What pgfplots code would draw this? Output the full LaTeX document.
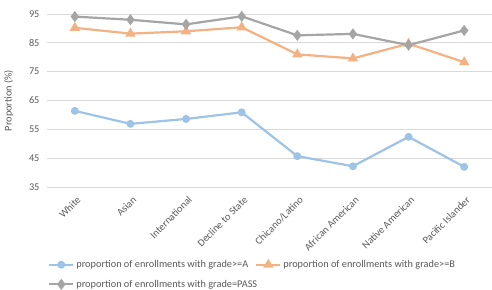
\documentclass[border=0pt]{standalone}
\usepackage{pgfplots}
\pgfplotsset{compat=1.18}
\usepackage{fontspec}
\setmainfont{Carlito}
\definecolor{txtc}{RGB}{89,89,89}
\definecolor{gridc}{RGB}{217,217,217}
\definecolor{cA}{RGB}{157,195,230}
\definecolor{cB}{RGB}{244,177,131}
\definecolor{cP}{RGB}{165,165,165}
\begin{document}
\begin{tikzpicture}
\begin{axis}[
  name=ax,
  scale only axis,
  width=445pt, height=173pt,
  xmin=-0.5, xmax=7.5,
  ymin=35, ymax=95,
  ytick={35,45,55,65,75,85,95},
  xtick={0,...,7},
  xticklabels={White,Asian,International,Decline to State,Chicano/Latino,African American,Native American,Pacific Islander},
  x tick label style={rotate=45, anchor=north east, font=\fontsize{10.3}{12}\selectfont, text=txtc, inner sep=1pt, yshift=-6pt, xshift=-4pt},
  y tick label style={font=\fontsize{10.3}{12}\selectfont, text=txtc, xshift=-4pt},
  /pgf/number format/assume math mode=true,
  grid=none,
  ymajorgrids=true,
  x grid style={white},
  y grid style={color=gridc, line width=0.8pt},
  tick style={white},
  axis line style={draw=none},
  major tick length=0pt,
  ylabel={Proportion (\%)},
  ylabel style={font=\fontsize{10.3}{12}\selectfont, text=txtc, at={(axis description cs:-0.068,0.5)}},
  clip=false,
  legend columns=2,
  legend style={at={(0.0,-0.40)}, anchor=north west, xshift=-2pt, draw=none, fill=none,
    font=\fontsize{10.3}{12}\selectfont, text=txtc, row sep=7pt,
    /tikz/every even column/.append style={column sep=-4pt}},
  legend cell align=left,
  legend image code/.code={\draw[mark repeat=2,mark phase=2,#1] plot coordinates {(0pt,0pt) (12pt,0pt) (24pt,0pt)};},
  every axis plot/.append style={line width=2.2pt},
]
\addplot[color=cA, mark=*, mark size=2.8pt, mark options={solid}] coordinates {
(0,61.4) (1,56.9) (2,58.6) (3,60.9) (4,45.7) (5,42.2) (6,52.4) (7,42.0)};
\addlegendentry{proportion of enrollments with grade>=A}
\addplot[color=cB, mark=triangle*, mark size=3.8pt, mark options={solid}] coordinates {
(0,90.2) (1,88.2) (2,89.0) (3,90.4) (4,81.0) (5,79.6) (6,84.7) (7,78.3)};
\addlegendentry{proportion of enrollments with grade>=B}
\addplot[color=cP, mark=diamond*, mark size=3.8pt, mark options={solid}] coordinates {
(0,94.1) (1,93.0) (2,91.4) (3,94.2) (4,87.6) (5,88.1) (6,84.2) (7,89.3)};
\addlegendentry{proportion of enrollments with grade=PASS}
\end{axis}
\pgfresetboundingbox
\path ([xshift=-47pt,yshift=-102pt]ax.south west) rectangle ([yshift=14pt]ax.north east);
\end{tikzpicture}
\end{document}
